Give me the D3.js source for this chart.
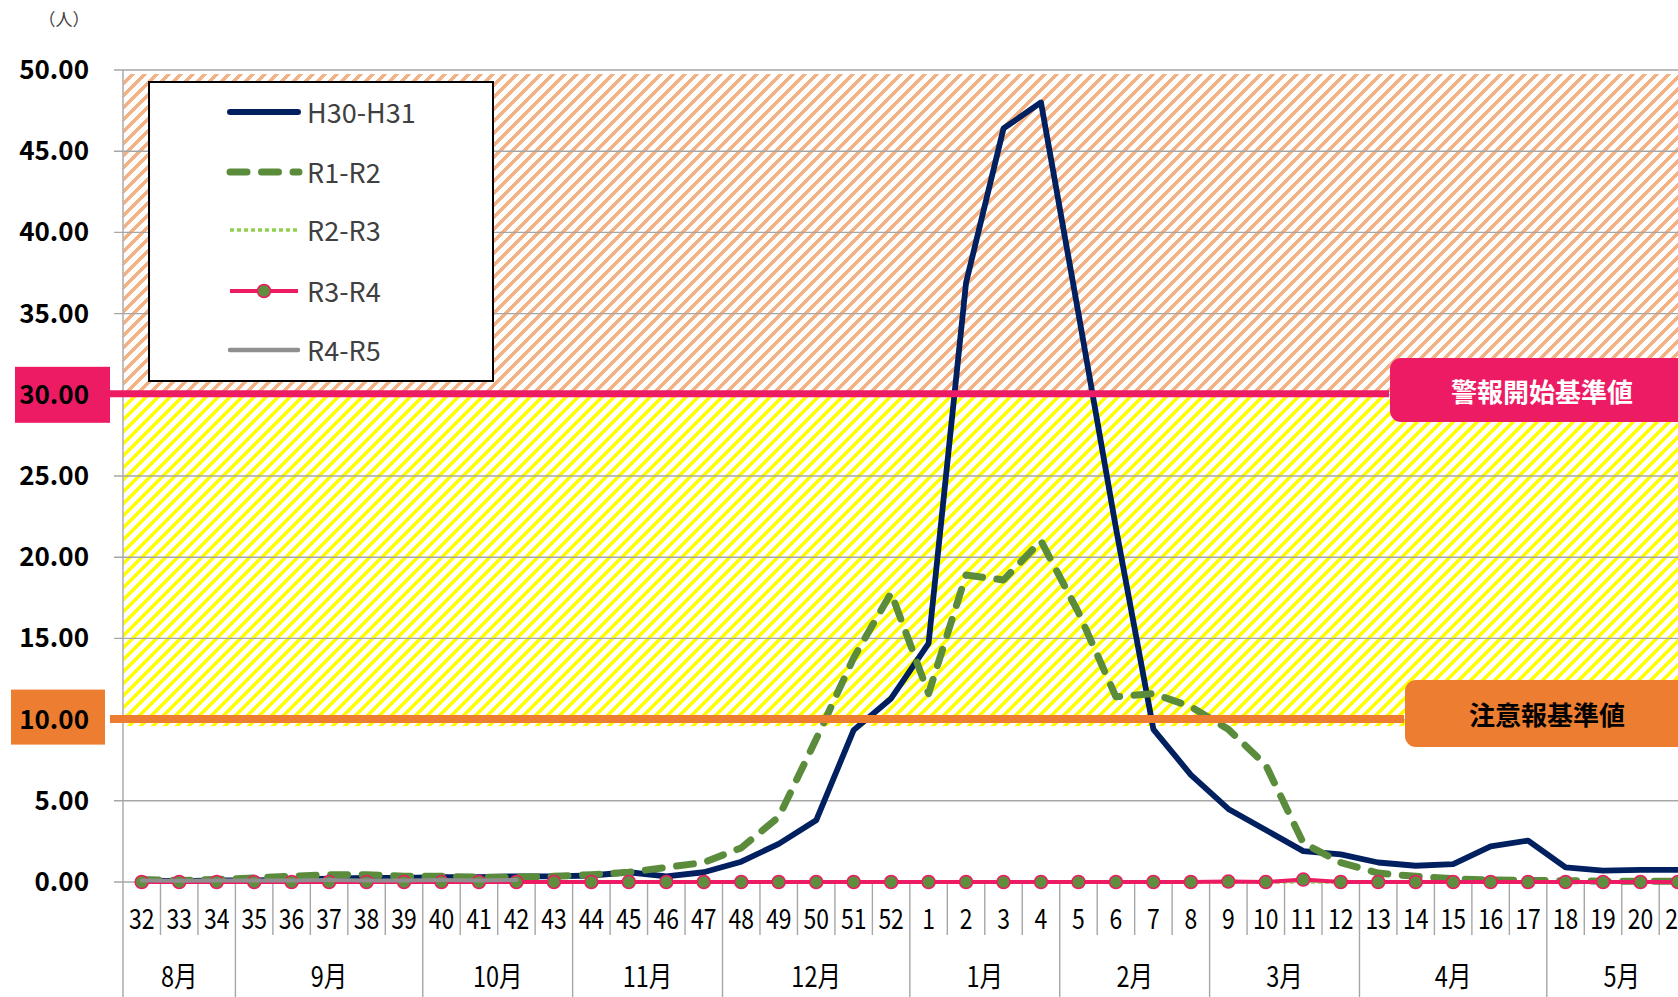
<!DOCTYPE html>
<html><head><meta charset="utf-8">
<script src="https://cdn.jsdelivr.net/npm/d3@7"></script>
<style>html,body{margin:0;padding:0;overflow:hidden;background:#fff}</style>
</head><body><svg id="c" width="1678" height="997"></svg>
<script>
// ---- data ----
const weeks = [32,33,34,35,36,37,38,39,40,41,42,43,44,45,46,47,48,49,50,51,52,1,2,3,4,5,6,7,8,9,10,11,12,13,14,15,16,17,18,19,20,21];
const months = ["8月","9月","10月","11月","12月","1月","2月","3月","4月","5月"];
const monthWeekCounts = [3,5,4,4,5,4,4,4,5,4];
const yTicks = [0,5,10,15,20,25,30,35,40,45,50];
const seriesNames = ["H30-H31","R1-R2","R2-R3","R3-R4","R4-R5"];
const h30h31 = [0.1,0.05,0.1,0.1,0.15,0.2,0.25,0.25,0.3,0.3,0.35,0.35,0.4,0.6,0.35,0.6,1.25,2.35,3.8,9.35,11.3,14.7,36.9,46.4,48.0,35.0,21.8,9.4,6.6,4.5,3.2,1.9,1.7,1.2,1.0,1.1,2.2,2.55,0.9,0.7,0.75,0.75];
const r1r2 = [0.15,0.1,0.15,0.25,0.35,0.45,0.45,0.35,0.35,0.3,0.3,0.35,0.45,0.6,0.9,1.2,2.1,4.0,8.8,13.8,17.8,11.6,18.9,18.6,21.0,16.6,11.4,11.6,10.8,9.4,7.2,2.4,1.2,0.55,0.35,0.2,0.12,0.1,0.08,0.05,0.05,0.05];
const r2r3 = [0,0,0,0,0,0,0,0,0,0,0,0,0,0,0,0,0,0,0,0,0,0,0,0,0,0,0,0,0,0,0,0,0,0,0,0,0,0,0,0,0,0];
const r3r4 = [0,0,0,0,0,0,0,0,0,0,0,0,0,0,0,0,0,0,0,0,0,0,0,0,0,0,0,0,0,0.03,0,0.15,0,0,0,0,0,0,0,0,0,0];
const r4r5 = [0.1,0.08,0.1,0.1,0.1,0.12,0.1,0.1,0.12,0.1,0.12];
const alertLevel = 30, warnLevel = 10;
const alertLabel = "警報開始基準値", warnLabel = "注意報基準値";
const unitLabel = "（人）";

// ---- setup ----
const FONT = "'Noto Sans CJK JP','Noto Sans',sans-serif";
const svg = d3.select("#c").style("font-family", FONT);
const x = d3.scaleBand().domain(weeks.map(String)).range([123, 1696.7]).paddingInner(0).paddingOuter(0);
const y = d3.scaleLinear().domain([0, 50]).range([882, 70]);
const cx = i => x(String(weeks[i])) + x.bandwidth() / 2;

const defs = svg.append("defs");
function hatch(id, color) {
  const P = 12, W = 5;
  const p = defs.append("pattern").attr("id", id).attr("patternUnits", "userSpaceOnUse")
    .attr("width", P).attr("height", P);
  p.append("rect").attr("width", P).attr("height", P).attr("fill", "#fff");
  for (let r = 0; r < P; r++) {
    const s = (P - r) % P;
    [s, s - P].forEach(xx => p.append("rect").attr("x", xx).attr("y", r).attr("width", W).attr("height", 1)
      .attr("fill", color).attr("shape-rendering", "crispEdges"));
  }
}
hatch("hOrange", "#f4b183");
hatch("hYellow", "#ffff00");

// hatched zones
svg.append("rect").attr("x", 123.5).attr("y", y(49.75)).attr("width", 1700 - 123)
  .attr("height", y(alertLevel) - y(49.75)).attr("fill", "url(#hOrange)");
svg.append("rect").attr("x", 123.5).attr("y", y(alertLevel)).attr("width", 1700 - 123)
  .attr("height", y(9.6) - y(alertLevel)).attr("fill", "url(#hYellow)");

// gridlines
svg.append("g").selectAll("line").data(yTicks).join("line")
  .attr("x1", 114).attr("x2", 1678).attr("y1", d => y(d)).attr("y2", d => y(d))
  .attr("stroke", "#a6a6a6").attr("stroke-width", 1.4);

// value-axis label boxes for thresholds
svg.append("rect").attr("x", 15).attr("y", y(alertLevel) - 28).attr("width", 95).attr("height", 56).attr("fill", "#ed1b64");
svg.append("rect").attr("x", 11).attr("y", y(warnLevel) - 30).attr("width", 94).attr("height", 55).attr("fill", "#ed7d31");

// y axis
const yAxis = svg.append("g").attr("transform", "translate(123,0)")
  .call(d3.axisLeft(y).tickValues(yTicks).tickFormat(d3.format(".2f")).tickSize(0).tickPadding(34));
yAxis.select(".domain").remove();
yAxis.selectAll("text").attr("font-size", 26).attr("font-weight", "bold").attr("fill", "#000")
  .attr("font-family", FONT).attr("dy", null).attr("dominant-baseline", "central").attr("y", -3);

// axis line
svg.append("line").attr("x1", 123).attr("x2", 123).attr("y1", 70).attr("y2", 997).attr("stroke", "#a6a6a6").attr("stroke-width", 1.4);

// x axis (weeks)
const xAxis = svg.append("g").attr("transform", "translate(0,882)")
  .call(d3.axisBottom(x).tickSize(0).tickPadding(0));
xAxis.select(".domain").remove();
xAxis.selectAll("text").attr("font-size", 28).attr("fill", "#000").attr("font-family", FONT)
  .attr("dy", null).attr("y", 34).attr("dominant-baseline", "central").attr("transform", "scale(0.82,1)");

// week dividers and month dividers
const monthStarts = [];
let acc = 0;
monthWeekCounts.forEach(n => { monthStarts.push(acc); acc += n; });
weeks.forEach((w, i) => {
  if (i === 0) return;
  const isMonth = monthStarts.includes(i);
  const xx = x(String(w));
  svg.append("line").attr("x1", xx).attr("x2", xx).attr("y1", 882).attr("y2", isMonth ? 997 : 935)
    .attr("stroke", "#a6a6a6").attr("stroke-width", 1.4);
});
months.forEach((m, k) => {
  const a = x(String(weeks[monthStarts[k]]));
  const b = a + monthWeekCounts[k] * x.bandwidth();
  svg.append("text").attr("x", (a + b) / 2).attr("y", 975).attr("text-anchor", "middle")
    .attr("dominant-baseline", "central").attr("font-size", 28).attr("fill", "#000")
    .attr("transform", `translate(${(a + b) / 2},0) scale(0.84,1) translate(${-(a + b) / 2},0)`)
    .text(m);
});

// unit label
svg.append("text").attr("x", 64).attr("y", 18).attr("text-anchor", "middle").attr("dominant-baseline", "central")
  .attr("font-size", 17).attr("fill", "#404040").text(unitLabel);

// ---- series ----
const line = d3.line().x(d => cx(d.i)).y(d => y(d.v));
const toPts = arr => arr.map((v, i) => ({ i, v }));
svg.append("path").datum(toPts(h30h31)).attr("d", line).attr("fill", "none")
  .attr("stroke", "#002060").attr("stroke-width", 5.8).attr("stroke-linejoin", "round");
svg.append("path").datum(toPts(r1r2)).attr("d", line).attr("fill", "none")
  .attr("stroke", "#5b8c3c").attr("stroke-width", 7).attr("stroke-dasharray", "17,14.5")
  .attr("stroke-linecap", "round").attr("stroke-linejoin", "round");
svg.append("path").datum(toPts(r2r3)).attr("d", line).attr("fill", "none")
  .attr("stroke", "#92d050").attr("stroke-width", 3.5).attr("stroke-dasharray", "4,3");
svg.append("path").datum(toPts(r3r4)).attr("d", line).attr("fill", "none")
  .attr("stroke", "#ed1b64").attr("stroke-width", 4);
svg.append("g").selectAll("circle").data(toPts(r3r4)).join("circle")
  .attr("cx", d => cx(d.i)).attr("cy", d => y(d.v)).attr("r", 6.5)
  .attr("fill", "#5f8f3e").attr("stroke", "#ed1b64").attr("stroke-width", 1.5);
svg.append("path").datum(toPts(r4r5)).attr("d", line).attr("fill", "none")
  .attr("stroke", "#8f8f8f").attr("stroke-width", 4).attr("stroke-linecap", "round");

// threshold lines
svg.append("line").attr("x1", 110).attr("x2", 1389).attr("y1", y(alertLevel) - 1).attr("y2", y(alertLevel) - 1)
  .attr("stroke", "#ed1b64").attr("stroke-width", 7);
svg.append("line").attr("x1", 110).attr("x2", 1404).attr("y1", y(warnLevel) - 0.5).attr("y2", y(warnLevel) - 0.5)
  .attr("stroke", "#ed7d31").attr("stroke-width", 8);

// threshold callouts
svg.append("rect").attr("x", 1390).attr("y", 358).attr("width", 310).attr("height", 64).attr("rx", 11)
  .attr("fill", "#ed1b64");
svg.append("text").attr("x", 1542).attr("y", 390).attr("text-anchor", "middle").attr("dominant-baseline", "central")
  .attr("font-size", 26).attr("font-weight", "bold").attr("fill", "#fff").text(alertLabel);
svg.append("rect").attr("x", 1405).attr("y", 680).attr("width", 300).attr("height", 67).attr("rx", 11)
  .attr("fill", "#ed7d31");
svg.append("text").attr("x", 1547).attr("y", 713).attr("text-anchor", "middle").attr("dominant-baseline", "central")
  .attr("font-size", 26).attr("font-weight", "bold").attr("fill", "#000").text(warnLabel);

// ---- legend ----
const lg = svg.append("g");
lg.append("rect").attr("x", 149).attr("y", 82).attr("width", 344).attr("height", 299)
  .attr("fill", "#fff").attr("stroke", "#000").attr("stroke-width", 2);
const rowY = [112, 172, 230, 291, 350];
const styles = [
  { stroke: "#002060", w: 6, cap: "round" },
  { stroke: "#5b8c3c", w: 7, dash: "17,14.5", cap: "round" },
  { stroke: "#92d050", w: 3.5, dash: "4,3" },
  { stroke: "#ed1b64", w: 4, marker: true },
  { stroke: "#8f8f8f", w: 4.5, cap: "round" }
];
seriesNames.forEach((n, k) => {
  const s = styles[k];
  const ln = lg.append("line").attr("x1", 230).attr("x2", k === 1 ? 299 : 298)
    .attr("y1", rowY[k]).attr("y2", rowY[k]).attr("stroke", s.stroke).attr("stroke-width", s.w);
  if (s.dash) ln.attr("stroke-dasharray", s.dash);
  if (s.cap) ln.attr("stroke-linecap", s.cap);
  if (s.marker) lg.append("circle").attr("cx", 264).attr("cy", rowY[k]).attr("r", 6.5)
    .attr("fill", "#5f8f3e").attr("stroke", "#ed1b64").attr("stroke-width", 1.5);
  lg.append("text").attr("x", 307).attr("y", rowY[k] - 1).attr("dominant-baseline", "central")
    .attr("font-size", 27).attr("fill", "#404040").text(n);
});
</script></body></html>
